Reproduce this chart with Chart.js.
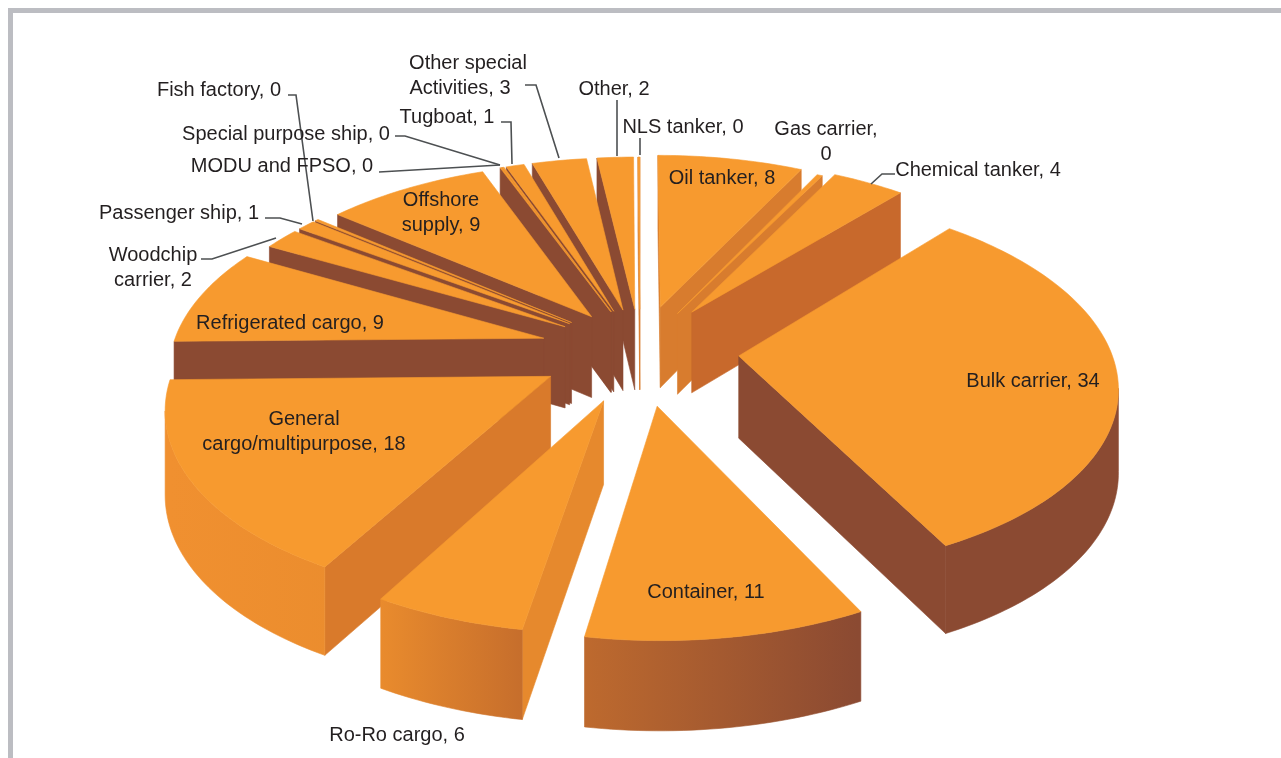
<!DOCTYPE html>
<html>
<head>
<meta charset="utf-8">
<script src="https://cdn.jsdelivr.net/npm/chart.js@4"></script>
<style>
    html, body { margin: 0; background: #fff; overflow: hidden; }
    #frame { position: absolute; left: 8px; top: 8px; right: 0; bottom: 0; border-top: 5px solid #bcbdc2; border-left: 5px solid #bcbdc2; }
    canvas { position: absolute; left: 0; top: 0; }
</style>
</head>
<body>
<div id="frame"></div>
<canvas id="fleetChart" width="1281" height="758"></canvas>
<script>
"use strict";

var categories = ['Oil tanker', 'Gas carrier', 'Chemical tanker', 'Bulk carrier', 'Container', 'Ro-Ro cargo',
    'General cargo/multipurpose', 'Refrigerated cargo', 'Woodchip carrier', 'Passenger ship', 'Fish factory',
    'Offshore supply', 'MODU and FPSO', 'Special purpose ship', 'Tugboat', 'Other special Activities', 'Other', 'NLS tanker'];

// the zero rows still show as slivers in the picture, so they get a small estimated share
var shares = [8, 0.3, 4, 34, 11, 6, 18, 9, 2, 1, 0.2, 9, 0.1, 0.1, 1, 3, 2, 0.1];

var sliceOffsets = [92, 85, 95, 99, 110, 105, 102, 100, 90, 90, 90, 85, 85, 85, 85, 85, 85, 85];
var sideColors = ['#d87c2e', '#d87c2e', '#c8692c', '#8b4a32', '#b9652e', '#e6892d', '#d97a2b', '#8b4a32', '#8b4a32',
    '#8b4a32', '#8b4a32', '#8b4a32', '#8b4a32', '#8b4a32', '#8b4a32', '#8b4a32', '#8b4a32', '#d87c2e'];

var labelSpots = [
    { lines: ['Fish factory, 0'], x: 219, y: 90 },
    { lines: ['Special purpose ship, 0'], x: 286, y: 134 },
    { lines: ['MODU and FPSO, 0'], x: 282, y: 166 },
    { lines: ['Passenger ship, 1'], x: 179, y: 213 },
    { lines: ['Woodchip', 'carrier, 2'], x: 153, y: 255 },
    { lines: ['Other special'], x: 468, y: 63 },
    { lines: ['Activities, 3'], x: 460, y: 88 },
    { lines: ['Tugboat, 1'], x: 447, y: 117 },
    { lines: ['Other, 2'], x: 614, y: 89 },
    { lines: ['NLS tanker, 0'], x: 683, y: 127 },
    { lines: ['Gas carrier,', '0'], x: 826, y: 129 },
    { lines: ['Chemical tanker, 4'], x: 978, y: 170 },
    { lines: ['Oil tanker, 8'], x: 722, y: 178 },
    { lines: ['Offshore', 'supply, 9'], x: 441, y: 200 },
    { lines: ['Refrigerated cargo, 9'], x: 290, y: 323 },
    { lines: ['General', 'cargo/multipurpose, 18'], x: 304, y: 419 },
    { lines: ['Bulk carrier, 34'], x: 1033, y: 381 },
    { lines: ['Container, 11'], x: 706, y: 592 },
    { lines: ['Ro-Ro cargo, 6'], x: 397, y: 735 }
];

var leaders = [
    [[288, 95], [296, 95], [313, 221]],
    [[395, 136], [405, 136], [500, 165]],
    [[379, 172], [500, 165]],
    [[265, 218], [280, 218], [302, 224]],
    [[201, 259], [212, 259], [276, 238]],
    [[501, 122], [511, 122], [512, 164]],
    [[525, 85], [536, 85], [559, 158]],
    [[617, 100], [617, 156]],
    [[640, 138], [640, 155]],
    [[895, 174], [882, 174], [871, 184]]
];

var centerX = 640;
var centerY = 350;
var rimRadius = 372;
var tilt = 0.495;
var perspective = 0.18;
var reach = 478;
var thickness = 82;

function project(x, y) {
    var n = 1 - perspective * y / reach;
    return { x: centerX + x / n, y: centerY + tilt * y / n, depth: thickness * (1 + 0.1 * y / reach) };
}

function slicePoints(arc) {
    var mid = (arc.startAngle + arc.endAngle) / 2;
    var shiftX = Math.cos(mid) * arc.options.offset;
    var shiftY = Math.sin(mid) * arc.options.offset;
    var pts = [project(shiftX, shiftY)];
    var steps = Math.max(2, Math.ceil((arc.endAngle - arc.startAngle) / 0.02));
    for (var i = 0; i <= steps; i++) {
        var a = arc.startAngle + (arc.endAngle - arc.startAngle) * i / steps;
        pts.push(project(shiftX + Math.cos(a) * rimRadius, shiftY + Math.sin(a) * rimRadius));
    }
    return pts;
}

function fillShape(ctx, pts, color) {
    ctx.fillStyle = color;
    ctx.strokeStyle = color;
    ctx.lineWidth = 0.6;
    ctx.beginPath();
    pts.forEach(function (p, i) {
        if (i === 0) ctx.moveTo(p.x, p.y); else ctx.lineTo(p.x, p.y);
    });
    ctx.closePath();
    ctx.fill();
    ctx.stroke();
}

function dropped(p) {
    return { x: p.x, y: p.y + p.depth };
}

// one wall for a whole run of rim points, so the gradient has no seams
function fillWall(ctx, run, color) {
    if (run.length > 1) fillShape(ctx, run.concat(run.map(dropped).reverse()), color);
}

var exploded3d = {
    id: 'exploded3d',
    beforeDatasetsDraw: function (chart) {
        var ctx = chart.ctx;
        var rimFill = ctx.createLinearGradient(170, 0, 857, 0);
        rimFill.addColorStop(0, '#f09030');
        rimFill.addColorStop(0.3, '#ea8c2d');
        rimFill.addColorStop(0.52, '#c56d2c');
        rimFill.addColorStop(0.6, '#be6a2e');
        rimFill.addColorStop(1, '#8b4a32');

        var arcs = chart.getDatasetMeta(0).data.map(function (arc, i) {
            return { arc: arc, index: i, mid: (arc.startAngle + arc.endAngle) / 2 };
        });
        arcs.sort(function (a, b) { return Math.sin(a.mid) - Math.sin(b.mid); });

        arcs.forEach(function (item) {
            var pts = slicePoints(item.arc);
            var last = pts.length - 1;

            // a wall shows only where the outline runs right to left
            if (pts[1].x < pts[0].x) fillWall(ctx, [pts[0], pts[1]], sideColors[item.index]);
            if (pts[0].x < pts[last].x) fillWall(ctx, [pts[last], pts[0]], sideColors[item.index]);
            var run = [];
            for (var i = 1; i < last; i++) {
                if (pts[i + 1].x < pts[i].x) {
                    if (run.length === 0) run.push(pts[i]);
                    run.push(pts[i + 1]);
                } else {
                    fillWall(ctx, run, rimFill);
                    run = [];
                }
            }
            fillWall(ctx, run, rimFill);

            fillShape(ctx, pts, item.arc.options.backgroundColor);
        });
        return false;
    },
    afterDraw: function (chart) {
        var ctx = chart.ctx;
        ctx.save();
        ctx.strokeStyle = '#4d5052';
        ctx.lineWidth = 1.6;
        leaders.forEach(function (line) {
            ctx.beginPath();
            line.forEach(function (p, i) {
                if (i === 0) ctx.moveTo(p[0], p[1]); else ctx.lineTo(p[0], p[1]);
            });
            ctx.stroke();
        });
        ctx.fillStyle = '#231f20';
        ctx.font = '20px "Liberation Sans"';
        ctx.textAlign = 'center';
        ctx.textBaseline = 'middle';
        labelSpots.forEach(function (spot) {
            spot.lines.forEach(function (text, i) {
                ctx.fillText(text, spot.x, spot.y + i * 25);
            });
        });
        ctx.restore();
    }
};

new Chart(document.getElementById('fleetChart'), {
    type: 'pie',
    data: {
        labels: categories,
        datasets: [{
            data: shares,
            backgroundColor: '#f79a2f',
            borderWidth: 0,
            offset: sliceOffsets
        }]
    },
    options: {
        responsive: false,
        animation: false,
        devicePixelRatio: 1,
        plugins: { legend: { display: false }, tooltip: { enabled: false } }
    },
    plugins: [exploded3d]
});
</script>
</body>
</html>
